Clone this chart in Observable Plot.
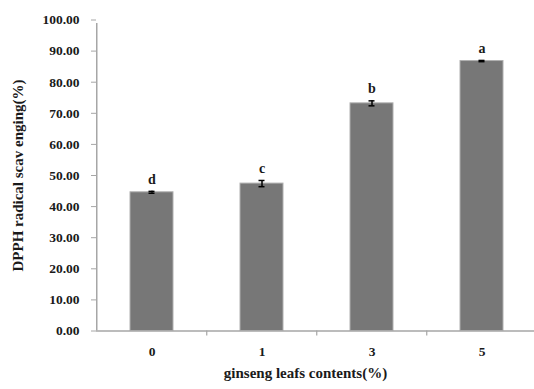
<!DOCTYPE html>
<html>
<head>
<meta charset="utf-8">
<script src="https://cdn.jsdelivr.net/npm/d3@7"></script>
<script src="https://cdn.jsdelivr.net/npm/@observablehq/plot@0.6"></script>
<style>
  html, body { margin: 0; padding: 0; background: #fff; }
  #chart svg { display: block; }
</style>
</head>
<body>
<div id="chart"></div>
<script>
const categories = ["0", "1", "3", "5"];
const values = [44.6, 47.4, 73.2, 86.8];
const errors = [0.3, 1.0, 0.8, 0.2];
const letters = ["d", "c", "b", "a"];
const yTicks = [0, 10, 20, 30, 40, 50, 60, 70, 80, 90, 100];
const xTitle = "ginseng leafs contents(%)";
const yTitle = "DPPH radical scav enging(%)";

const data = categories.map((c, i) => ({ cat: c, v: values[i], e: errors[i], l: letters[i] }));

const W = 534, H = 389;
const xRange = [96, 538];
const step = (xRange[1] - xRange[0]) / categories.length;
const font = "'Liberation Serif', 'Times New Roman', serif";
const axisGray = "#a6a6a6";

const chart = Plot.plot({
  width: W,
  height: H,
  marginLeft: 96,
  marginRight: 0,
  marginTop: 19.5,
  marginBottom: 58.5,
  style: { fontFamily: font, fontWeight: "bold", fontSize: "13px", color: "#1a1a1a", background: "#fff" },
  x: { type: "band", domain: categories, range: xRange, paddingInner: 0.606, paddingOuter: 0.303 },
  y: { domain: [0, 100], range: [330.5, 19.5] },
  marks: [
    Plot.barY(data, { x: "cat", y: "v", fill: "#777777", stroke: "#b0b0b0", strokeWidth: 1 }),
    Plot.ruleY([0], { stroke: axisGray, strokeWidth: 1.5 }),
    Plot.ruleX(categories.slice(1), { x: d => d, y1: 0, y2: 0, dx: -step / 2, insetBottom: -5, stroke: axisGray, strokeWidth: 1.2 }),
    Plot.ruleX([categories[0]], { x: d => d, y1: 0, y2: 100, dx: -step / 2, insetBottom: -3.5, stroke: axisGray, strokeWidth: 1.5 }),
    Plot.ruleX(data, { x: "cat", y1: d => d.v - d.e, y2: d => d.v + d.e, stroke: "#000", strokeWidth: 1.5 }),
    Plot.tickY(data, { x: "cat", y: d => d.v + d.e, stroke: "#000", strokeWidth: 1.5, insetLeft: 18.5, insetRight: 18.5 }),
    Plot.tickY(data, { x: "cat", y: d => d.v - d.e, stroke: "#000", strokeWidth: 1.5, insetLeft: 18.5, insetRight: 18.5 }),
    Plot.text(data, { x: "cat", y: d => d.v + d.e, text: "l", dy: -12, fontSize: 14, fontWeight: "bold", fill: "#1a1a1a" }),
    Plot.axisY({ ticks: yTicks, tickFormat: d3.format(".2f"), tickSize: 5, tickPadding: 12, fontSize: 13.5, fontWeight: "bold", stroke: axisGray, label: null }),
    Plot.axisX({ tickSize: 0, tickPadding: 15, fontSize: 13.5, fontWeight: "bold", label: null }),
    Plot.text([xTitle], { frameAnchor: "bottom", dx: -10, dy: 47, fontSize: 15, fontWeight: "bold", fill: "#1a1a1a" }),
    Plot.text([yTitle], { frameAnchor: "left", textAnchor: "middle", rotate: -90, dx: -78, dy: 0, fontSize: 15, fontWeight: "bold", fill: "#1a1a1a" })
  ]
});
document.getElementById("chart").appendChild(chart);
</script>
</body>
</html>
